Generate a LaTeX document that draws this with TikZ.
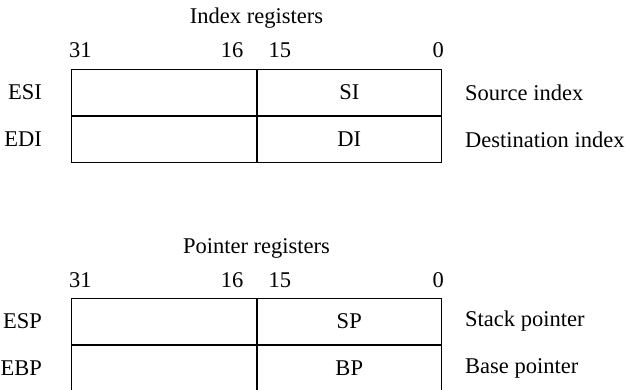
\documentclass[tikz,border=0pt]{standalone}
\usepackage{fontspec}
\setmainfont{Liberation Serif}
\usetikzlibrary{positioning}

\begin{document}
\begin{tikzpicture}[x=1pt,y=-1pt,
    every node/.style={font=\fontsize{22.5}{26}\selectfont,inner sep=2pt},
    cell/.style={draw,line width=1pt,minimum width=184.5pt,minimum height=46pt,inner sep=0pt,anchor=north west}]
    \useasboundingbox (0,0) rectangle (626,390);
    \foreach \oy/\ttl/\ra/\rb/\la/\lb/\da/\db in {0/Index/ESI/EDI/SI/DI/Source index/Destination index,
        229/Pointer/ESP/EBP/SP/BP/Stack pointer/Base pointer}{
      \node (\ra-hi) [cell] at (71,{69+\oy}) {};
      \node (\ra-lo) [cell,right=0pt of \ra-hi] {\la};
      \node (\rb-hi) [cell,below=0pt of \ra-hi] {};
      \node (\rb-lo) [cell,right=0pt of \rb-hi] {\lb};
      \node (\ra-name) [left=27pt of \ra-hi] {\ra};
      \node (\rb-name) [left=27pt of \rb-hi] {\rb};
      \node (\ra-desc) [right=21pt of \ra-lo] {\da};
      \node (\rb-desc) [right=21pt of \rb-lo] {\db};
      \node (\ra-b31) [anchor=base west] at ([xshift=-4pt,yshift=11pt]\ra-hi.north west) {31};
      \node (\ra-b16) [anchor=base east] at ([xshift=-11pt,yshift=11pt]\ra-hi.north east) {16};
      \node (\ra-b15) [anchor=base west] at ([xshift=10pt,yshift=11pt]\ra-lo.north west) {15};
      \node (\ra-b0) [anchor=base east] at ([xshift=4pt,yshift=11pt]\ra-lo.north east) {0};
      \node (\ra-title) [anchor=base] at ([yshift=45pt]\ra-hi.north east) {\ttl{} registers};
    }
\end{tikzpicture}
\end{document}
